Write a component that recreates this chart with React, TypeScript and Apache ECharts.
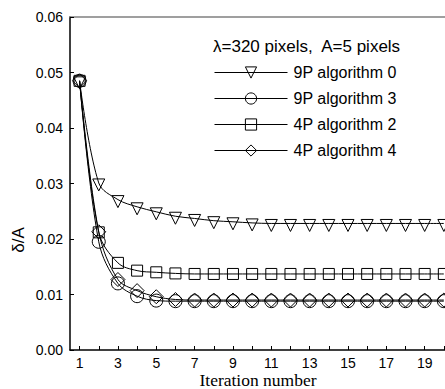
import React, { useEffect, useRef } from "react";
import * as echarts from "echarts";

const iterations = [1, 2, 3, 4, 5, 6, 7, 8, 9, 10, 11, 12, 13, 14, 15, 16, 17, 18, 19, 20];
const xTickValues = [1, 2, 3, 4, 5, 6, 7, 8, 9, 10, 11, 12, 13, 14, 15, 16, 17, 18, 19, 20];
const xLabelValues = [1, 3, 5, 7, 9, 11, 13, 15, 17, 19];

const seriesNames = ["9P algorithm 0", "9P algorithm 3", "4P algorithm 2", "4P algorithm 4"];
const alg9P0 = [0.0485, 0.0301, 0.0271, 0.0258, 0.0249, 0.0241, 0.0237, 0.0233, 0.0231, 0.0229, 0.0228, 0.0228, 0.0228, 0.0228, 0.0228, 0.0228, 0.0228, 0.0228, 0.0228, 0.0228];
const alg9P3 = [0.0485, 0.0195, 0.0120, 0.0097, 0.0089, 0.0088, 0.0088, 0.0088, 0.0088, 0.0088, 0.0088, 0.0088, 0.0088, 0.0088, 0.0088, 0.0088, 0.0088, 0.0088, 0.0088, 0.0088];
const alg4P2 = [0.0485, 0.0212, 0.0157, 0.0143, 0.0140, 0.0138, 0.0137, 0.0137, 0.0137, 0.0137, 0.0137, 0.0137, 0.0137, 0.0137, 0.0137, 0.0137, 0.0137, 0.0137, 0.0137, 0.0137];
const alg4P4 = [0.0485, 0.0213, 0.0127, 0.0107, 0.0096, 0.0091, 0.0090, 0.0090, 0.0090, 0.0090, 0.0090, 0.0090, 0.0090, 0.0090, 0.0090, 0.0090, 0.0090, 0.0090, 0.0090, 0.0090];

const titleText = "λ=320 pixels,  A=5 pixels";
const xName = "Iteration number";
const yName = "δ/A";

export default function App() {
  const ref = useRef<HTMLDivElement>(null);
  useEffect(() => {
    document.body.style.margin = "0";
    if (!ref.current) return;
    const chart = echarts.init(ref.current, null, { renderer: "svg" });
    const sans = "Liberation Sans, Arial, sans-serif";
    const serif = "Liberation Serif, Times New Roman, serif";
    const mk = (name: string, vals: number[], symbol: string, size: number, extra: any = {}) => ({
      type: "line",
      name,
      data: iterations.map((x, i) => [x, vals[i]]),
      smooth: 0.35,
      symbol,
      symbolSize: size,
      showSymbol: true,
      lineStyle: { color: "#000", width: 1 },
      itemStyle: { color: "rgba(255,255,255,0)", borderColor: "#000", borderWidth: 1 },
      z: 3,
      ...extra,
    });
    chart.setOption({
      animation: false,
      backgroundColor: "#fff",
      textStyle: { fontFamily: sans },
      grid: { left: 70, top: 17, right: 0, bottom: 39 },
      xAxis: [
        {
          type: "value",
          min: 0.5,
          max: 20.06,
          axisLine: { show: true, lineStyle: { color: "#000", width: 1.5 } },
          axisTick: { show: true, inside: true, length: 4, customValues: xTickValues, lineStyle: { color: "#000" } },
          axisLabel: { customValues: xLabelValues, color: "#000", fontSize: 14, fontFamily: sans, margin: 6 },
          splitLine: { show: false },
        },
        {
          type: "value",
          position: "top",
          min: 0.5,
          max: 20.06,
          axisLine: { show: true, lineStyle: { color: "#808080", width: 1.5 } },
          axisTick: { show: false },
          axisLabel: { show: false },
          splitLine: { show: false },
        },
      ],
      yAxis: {
        type: "value",
        min: 0,
        max: 0.06,
        interval: 0.01,
        axisLine: { show: true, lineStyle: { color: "#000", width: 1.5 } },
        axisTick: { show: true, inside: true, length: 4, lineStyle: { color: "#000" } },
        axisLabel: { color: "#000", fontSize: 14, fontFamily: sans, margin: 7, formatter: (v: number) => v.toFixed(2) },
        splitLine: { show: false },
      },
      legend: {
        orient: "vertical",
        left: 214,
        top: 64.5,
        padding: 0,
        itemWidth: 73,
        itemHeight: 14,
        itemGap: 10,
        lineStyle: { width: 1, color: "#000" },
        itemStyle: { borderWidth: 1 },
        textStyle: { color: "#000", fontSize: 16, fontFamily: sans, padding: [0, 0, 0, 1] },
        data: seriesNames,
      },
      graphic: [
        { type: "text", left: 213, top: 38, style: { text: titleText, fill: "#000", font: `17px ${sans}` } },
        { type: "text", x: 258, y: 389, style: { text: xName, fill: "#000", font: `17.5px ${serif}`, align: "center", verticalAlign: "bottom" } },
        { type: "text", x: 18, y: 240, rotation: Math.PI / 2, style: { text: yName, fill: "#000", font: `17px ${sans}`, align: "center", verticalAlign: "middle" } },
      ],
      series: [
        mk(seriesNames[0], alg9P0, "triangle", 12, { symbolRotate: 180, symbolOffset: [0, 2] }),
        mk(seriesNames[1], alg9P3, "circle", 13),
        mk(seriesNames[2], alg4P2, "rect", 11),
        mk(seriesNames[3], alg4P4, "diamond", 14),
      ],
    });
    return () => chart.dispose();
  }, []);
  return <div ref={ref} style={{ width: 445, height: 389 }} />;
}
